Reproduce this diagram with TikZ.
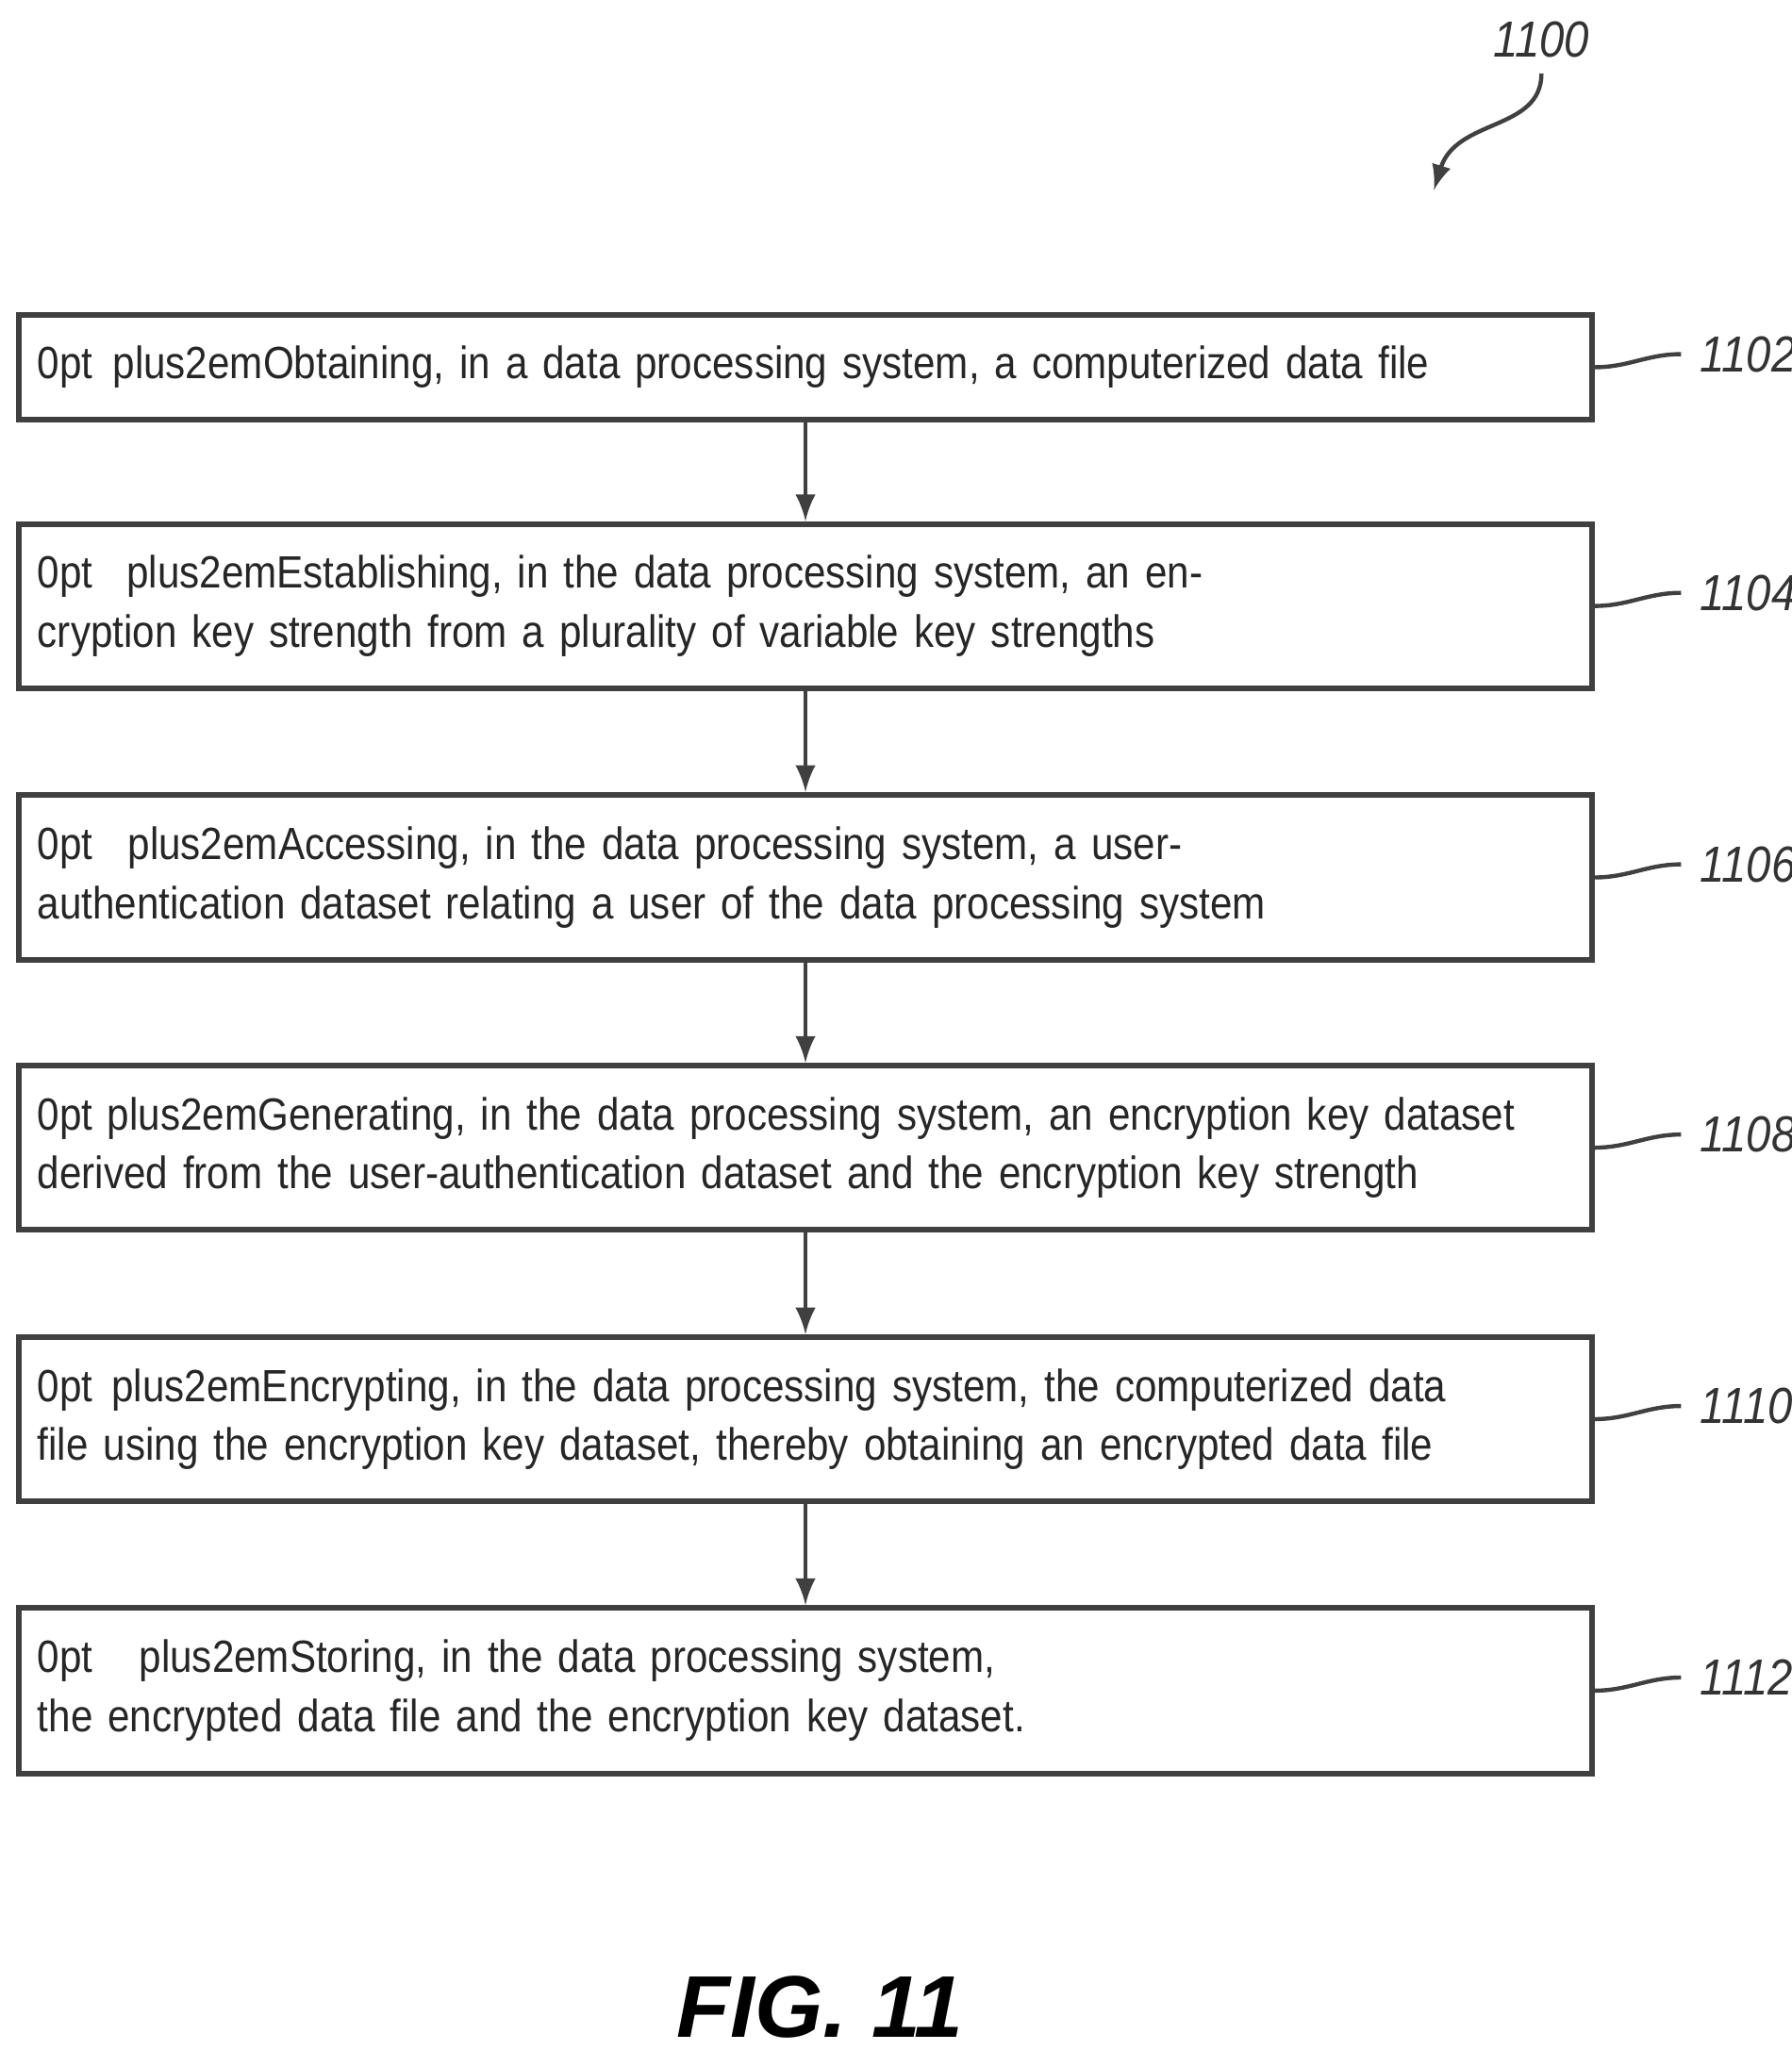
\documentclass[tikz,border=0pt]{standalone}
\usepackage{fontspec}
\setmainfont{Liberation Sans}
\newfontfamily\narrowfont[FakeStretch=0.88]{Liberation Sans}
\usetikzlibrary{positioning}
\tikzset{
  stepbox/.style={draw=black!75, line width=1.2pt, minimum width=11.98cm, align=center,
    text width=11.7cm, font=\narrowfont\fontsize{9.8}{12.8}\selectfont\hyphenpenalty=10000, text=black!85},
  ref/.style={font=\narrowfont\itshape\fontsize{11}{13}\selectfont, text=black!80},
  flow/.style={-latex, line width=1pt, black!75},
  lead/.style={line width=0.9pt, black!75}
}
\begin{document}
\begin{tikzpicture}[x=0.01cm,y=-0.01cm]
        \useasboundingbox (0,0) rectangle (1366,1563);
        % Steps
        \node[stepbox, minimum height=0.80cm] (1102) at (614,280) {Obtaining, in a data processing system, a computerized data file};
        \node[stepbox, minimum height=1.25cm] (1104) at (614,462) {Establishing, in the data processing system, an encryption key strength from a plurality of variable key strengths};
        \node[stepbox, minimum height=1.26cm] (1106) at (614,669) {Accessing, in the data processing system, a user-authentication dataset relating a user of the data processing system};
        \node[stepbox, minimum height=1.25cm] (1108) at (614,875) {Generating, in the data processing system, an encryption key dataset derived from the user-authentication dataset and the encryption key strength};
        \node[stepbox, minimum height=1.25cm] (1110) at (614,1082) {Encrypting, in the data processing system, the computerized data file using the encryption key dataset, thereby obtaining an encrypted data file};
        \node[stepbox, minimum height=1.26cm] (1112) at (614,1289) {Storing, in the data processing system, the encrypted data file and the encryption key dataset.};

        % Reference numerals
        \foreach \n in {1102,1104,1106,1108,1110,1112} {
            \node[ref, right=0.68cm of \n.east, yshift=0.1cm] (l\n) {\n};
            \draw[lead] (\n.east) to[out=0,in=180] ([xshift=-0.02cm]l\n.west);
        }
        \node[ref] (l1100) at (1175,30) {1100};
        \coordinate (t1100) at (1093,145);
        \draw[lead, -latex] (l1100.south) .. controls (1175,100) and (1110,90) .. (t1100);

        % Flow
        \draw[flow] (1102) -- (1104);
        \draw[flow] (1104) -- (1106);
        \draw[flow] (1106) -- (1108);
        \draw[flow] (1108) -- (1110);
        \draw[flow] (1110) -- (1112);

        \node[font=\bfseries\itshape\fontsize{19}{21}\selectfont] (fig) at (625,1530) {FIG. 11};
\end{tikzpicture}
\end{document}
